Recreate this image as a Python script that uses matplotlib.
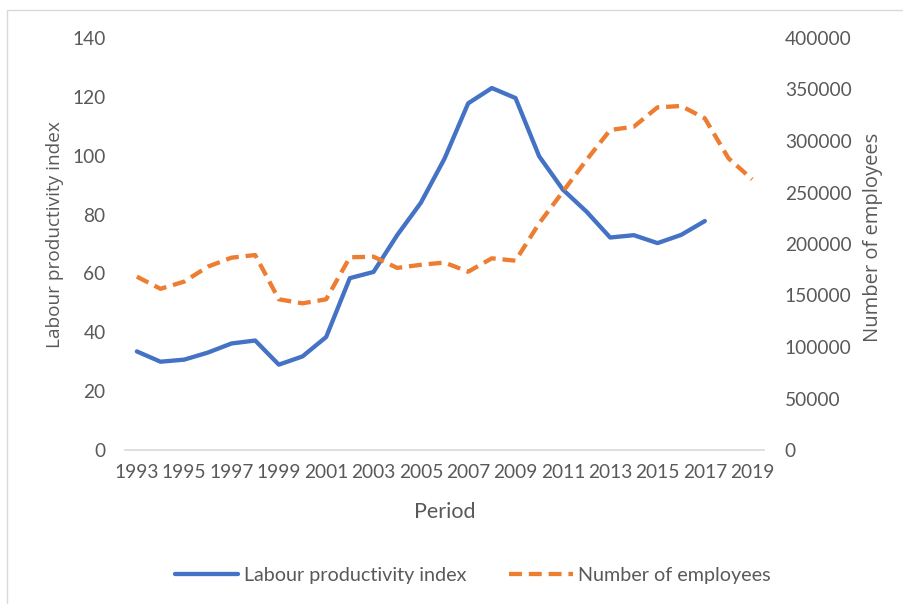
import matplotlib
matplotlib.use("Agg")
import matplotlib.pyplot as plt
from matplotlib.patches import Rectangle

# datos
anios = list(range(1993, 2020))
productividad = [33.5, 30.0, 30.7, 33.1, 36.2, 37.2, 29.0, 31.8, 38.4, 58.4, 60.5,
                 73.0, 84.0, 99.0, 117.8, 123.0, 119.6, 99.8, 88.5, 81.0, 72.2,
                 73.0, 70.3, 73.1, 77.8]
empleados = [168300, 156500, 163500, 178000, 186700, 189300, 146300, 142400, 146300,
             187100, 187700, 176800, 179800, 182000, 173100, 186100, 183800, 220100,
             250800, 281600, 310700, 313900, 332700, 334000, 322000, 283200, 262800]
etiquetas_x = [str(a) for a in range(1993, 2020, 2)]

AZUL = "#4472C4"
NARANJA = "#ED7D31"
GRIS_TEXTO = "#595959"
fuente = ["Lato", "DejaVu Sans"]

W, H = 904, 604
fig = plt.figure(figsize=(W / 100, H / 100), dpi=100)

# borde del área del gráfico
fig.patches.append(Rectangle((7 / W, -0.1), 1.2, 1.1 - 10 / H, transform=fig.transFigure,
                             fill=False, edgecolor="#d9d9d9", linewidth=1))

ax = fig.add_axes([125 / W, 154 / H, 639 / W, 412 / H])
ax2 = ax.twinx()

l1, = ax.plot(anios[:len(productividad)], productividad, color=AZUL, lw=3.1,
              solid_capstyle="round", solid_joinstyle="round", label="Labour productivity index")
l2, = ax2.plot(anios, empleados, color=NARANJA, lw=3.1, dashes=(3, 1.6),
               label="Number of employees")

ax.set_xlim(1992.5, 2019.5)
ax.set_ylim(0, 140)
ax2.set_ylim(0, 400000)
ax.set_yticks(range(0, 141, 20))
ax2.set_yticks(range(0, 400001, 50000))
ax.set_xticks(range(1993, 2020, 2))
ax.set_xticklabels(etiquetas_x)

for a in (ax, ax2):
    for s in a.spines.values():
        s.set_visible(False)
    a.tick_params(length=0, labelsize=13.8, labelcolor=GRIS_TEXTO)
    for t in a.get_xticklabels() + a.get_yticklabels():
        t.set_family(fuente)
ax.spines["bottom"].set_visible(True)
ax.spines["bottom"].set_color("#d9d9d9")
ax.spines["bottom"].set_linewidth(1.2)
ax.tick_params(axis="y", pad=14)
ax2.tick_params(axis="y", pad=15)
ax.tick_params(axis="x", pad=10)

# títulos de ejes
fig.text(55 / W, 1 - 235 / H, "Labour productivity index", rotation=90, ha="center",
         va="center", fontsize=13.7, color=GRIS_TEXTO, family="Open Sans")
fig.text(873 / W, 1 - 237 / H, "Number of employees", rotation=90, ha="center",
         va="center", fontsize=14.5, color=GRIS_TEXTO, family="Open Sans")
fig.text(445 / W, 1 - 512 / H, "Period", ha="center", va="center",
         fontsize=15.5, color=GRIS_TEXTO, family=fuente)

fig.legend([l1, l2], [l1.get_label(), l2.get_label()], loc="center",
           bbox_to_anchor=(0.523, 1 - 575 / H), ncol=2, frameon=False,
           handlelength=3.2, columnspacing=2.2, handletextpad=0.3,
           prop={"family": fuente, "size": 14.2}, labelcolor=GRIS_TEXTO)

fig.savefig("out.png", dpi=100)
